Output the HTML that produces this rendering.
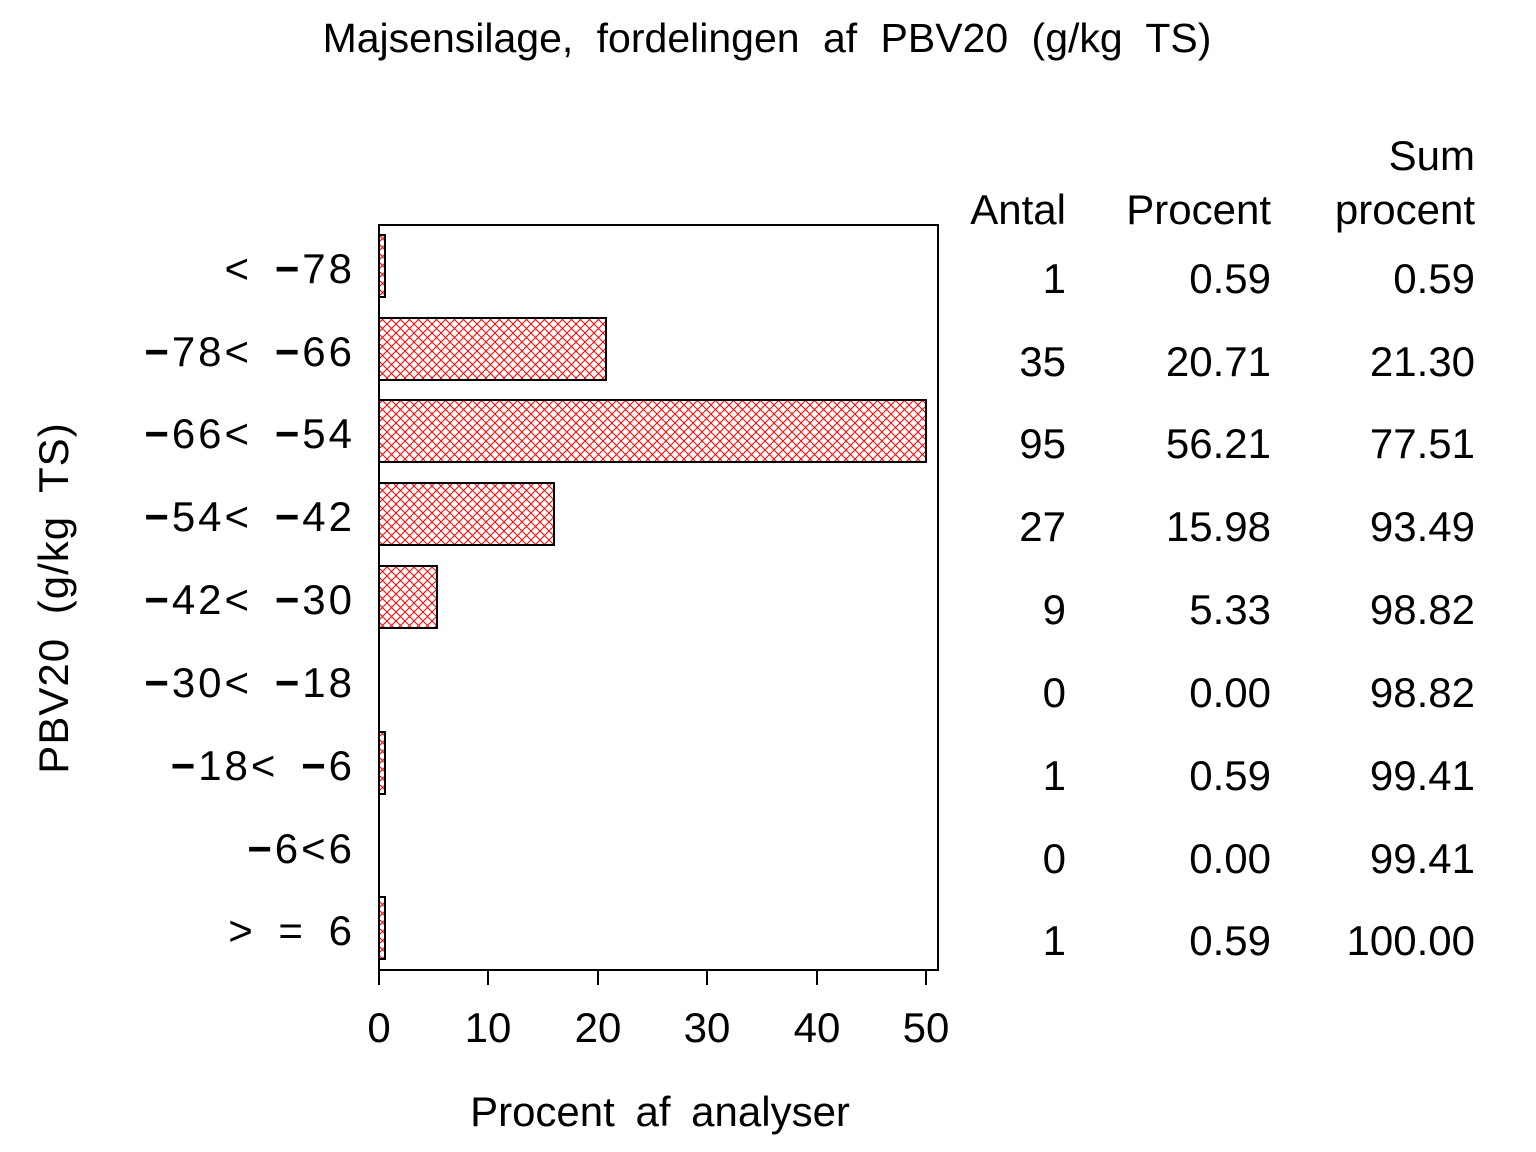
<!DOCTYPE html>
<html><head><meta charset="utf-8"><style>
html,body{margin:0;padding:0;background:#fff}
svg{display:block}
text{font-family:"Liberation Sans",sans-serif;font-size:42px;fill:#000}
.m{font-weight:bold}
.lab{letter-spacing:3px;word-spacing:8px}
</style></head><body>
<svg width="1536" height="1152" viewBox="0 0 1536 1152" xmlns="http://www.w3.org/2000/svg">
<defs>
<pattern id="h" width="9" height="9" patternUnits="userSpaceOnUse">
<path d="M0 0L9 9M9 0L0 9" stroke="#f00" stroke-width="1"/>
</pattern>
</defs>
<text x="767" y="52" text-anchor="middle" style="font-size:41px;word-spacing:12px">Majsensilage, fordelingen af PBV20 (g/kg TS)</text>
<rect x="379" y="225" width="559" height="745" fill="none" stroke="#000" stroke-width="2"/>
<g stroke="#000" stroke-width="2">
<line x1="379" y1="970" x2="379" y2="985"/><line x1="488" y1="970" x2="488" y2="985"/>
<line x1="598" y1="970" x2="598" y2="985"/><line x1="707" y1="970" x2="707" y2="985"/>
<line x1="817" y1="970" x2="817" y2="985"/><line x1="926" y1="970" x2="926" y2="985"/>
</g>
<g fill="url(#h)" stroke="#000" stroke-width="2">
<rect x="379" y="235" width="6" height="62"/>
<rect x="379" y="318" width="227" height="62"/>
<rect x="379" y="400" width="547" height="62"/>
<rect x="379" y="483" width="175" height="62"/>
<rect x="379" y="566" width="58" height="62"/>
<rect x="379" y="732" width="6" height="62"/>
<rect x="379" y="897" width="6" height="62"/>
</g>
<g text-anchor="middle">
<text x="379" y="1042">0</text><text x="488" y="1042">10</text><text x="598" y="1042">20</text>
<text x="707" y="1042">30</text><text x="817" y="1042">40</text><text x="926" y="1042">50</text>
</g>
<text x="660" y="1126" text-anchor="middle" style="word-spacing:9px">Procent af analyser</text>
<text transform="translate(68,598) rotate(-90)" text-anchor="middle" style="word-spacing:11px;letter-spacing:1px">PBV20 (g/kg TS)</text>
<g text-anchor="end" class="lab">
<text x="355" y="283">&lt; <tspan class="m">−</tspan>78</text>
<text x="355" y="366"><tspan class="m">−</tspan>78&lt; <tspan class="m">−</tspan>66</text>
<text x="355" y="448"><tspan class="m">−</tspan>66&lt; <tspan class="m">−</tspan>54</text>
<text x="355" y="531"><tspan class="m">−</tspan>54&lt; <tspan class="m">−</tspan>42</text>
<text x="355" y="614"><tspan class="m">−</tspan>42&lt; <tspan class="m">−</tspan>30</text>
<text x="355" y="697"><tspan class="m">−</tspan>30&lt; <tspan class="m">−</tspan>18</text>
<text x="355" y="780"><tspan class="m">−</tspan>18&lt; <tspan class="m">−</tspan>6</text>
<text x="355" y="863"><tspan class="m">−</tspan>6&lt;6</text>
<text x="355" y="945">&gt; = 6</text>
</g>
<g text-anchor="end">
<text x="1475" y="170">Sum</text>
<text x="1066" y="224">Antal</text><text x="1271" y="224">Procent</text><text x="1475" y="224">procent</text>
<text x="1066" y="293">1</text><text x="1271" y="293">0.59</text><text x="1475" y="293">0.59</text>
<text x="1066" y="376">35</text><text x="1271" y="376">20.71</text><text x="1475" y="376">21.30</text>
<text x="1066" y="458">95</text><text x="1271" y="458">56.21</text><text x="1475" y="458">77.51</text>
<text x="1066" y="541">27</text><text x="1271" y="541">15.98</text><text x="1475" y="541">93.49</text>
<text x="1066" y="624">9</text><text x="1271" y="624">5.33</text><text x="1475" y="624">98.82</text>
<text x="1066" y="707">0</text><text x="1271" y="707">0.00</text><text x="1475" y="707">98.82</text>
<text x="1066" y="790">1</text><text x="1271" y="790">0.59</text><text x="1475" y="790">99.41</text>
<text x="1066" y="873">0</text><text x="1271" y="873">0.00</text><text x="1475" y="873">99.41</text>
<text x="1066" y="955">1</text><text x="1271" y="955">0.59</text><text x="1475" y="955">100.00</text>
</g>
</svg>
</body></html>
